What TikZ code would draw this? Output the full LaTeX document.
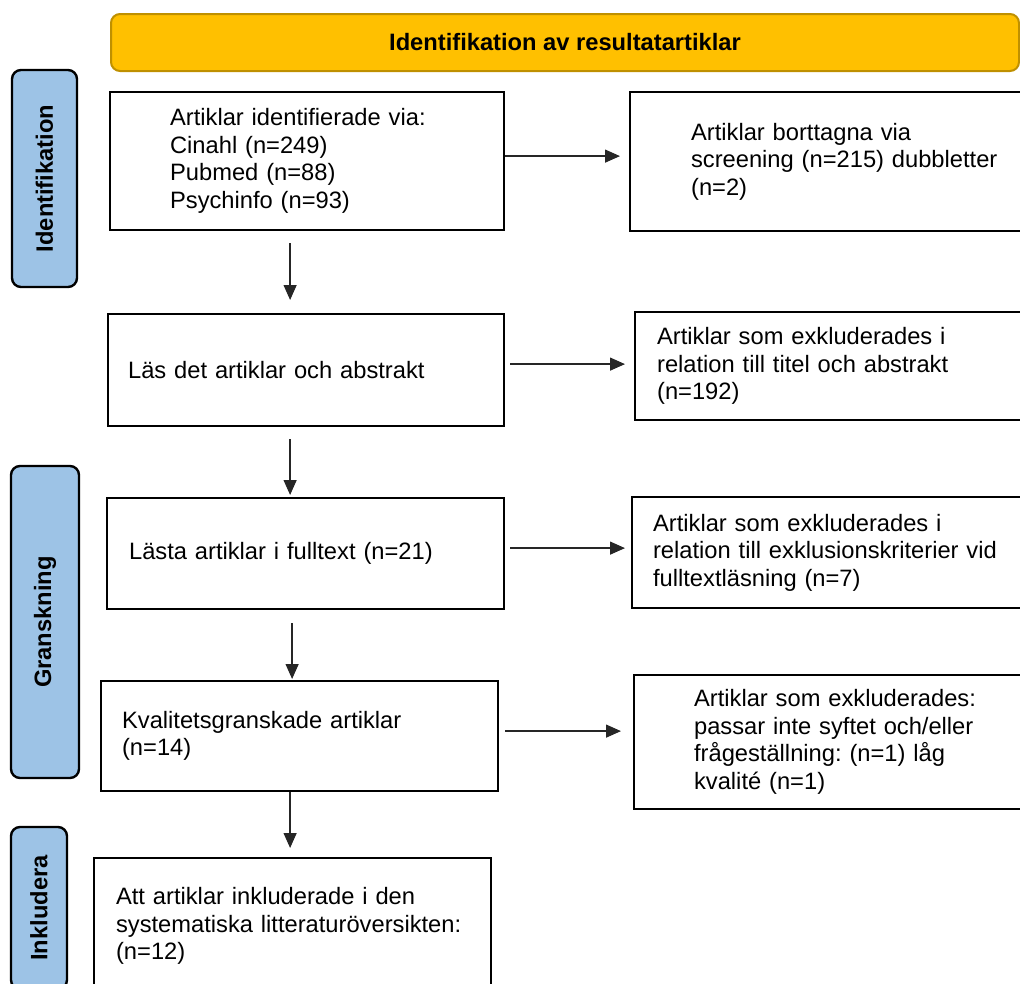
\documentclass[tikz,border=0pt]{standalone}
\usepackage{fontspec}
\setmainfont{Liberation Sans}
\frenchspacing
\usetikzlibrary{arrows.meta,positioning}
\definecolor{guld}{HTML}{FFC000}
\definecolor{guldkant}{HTML}{BF9000}
\definecolor{ljusbla}{HTML}{9DC3E6}

\begin{document}
\begin{tikzpicture}[x=1pt, y=-1pt,
  font=\fontsize{23.7}{27.5}\selectfont,
  ruta/.style={draw, line width=2.2pt, align=left, inner ysep=0pt,
               anchor=north west},
  fas/.style={draw, fill=ljusbla, line width=2.4pt, rounded corners=9pt,
              rotate=90, font=\fontsize{23.7}{27.5}\selectfont\bfseries},
  rubrik/.style={draw=guldkant, fill=guld, line width=2pt, rounded corners=9pt,
                 minimum width=908pt, minimum height=57pt,
                 font=\fontsize{23.7}{27.5}\selectfont\bfseries},
  pil/.style={-{Triangle[length=15pt, width=13pt]}, line width=1.3pt, black!85}]
\useasboundingbox (0,0) rectangle (1020,983);
\clip (0,0) rectangle (1020,983);
\node[rubrik] (titel) at (565,42.5) {Identifikation av resultatartiklar};
% faserna till vanster
\node[fas, minimum width=217pt, minimum height=65pt] (fas1) at (44.5,178.5) {Identifikation};
\node[fas, minimum width=312pt, minimum height=68pt] (fas2) at (45,622) {Granskning};
\node[fas, minimum width=162pt, minimum height=56pt] (fas3) at (39,908) {Inkludera};
% huvudflodet
\node[ruta, inner xsep=60pt, text width=274pt, minimum height=138pt] (s1) at (109,91)
  {Artiklar identifierade via:\\Cinahl (n=249)\\Pubmed (n=88)\\Psychinfo (n=93)};
\node[ruta, inner xsep=20pt, text width=356pt, minimum height=112pt] (s2) at (107,313)
  {Läs det artiklar och abstrakt};
\node[ruta, inner xsep=22pt, text width=353pt, minimum height=111pt] (s3) at (106,497)
  {Lästa artiklar i fulltext (n=21)};
\node[ruta, inner xsep=21pt, text width=355pt, minimum height=110pt] (s4) at (100,680)
  {Kvalitetsgranskade artiklar\\(n=14)};
\node[ruta, inner xsep=22pt, text width=353pt, minimum height=136pt] (s5) at (93,857)
  {Att artiklar inkluderade i den\\systematiska litteraturöversikten:\\(n=12)};
% uteslutna
\node[ruta, inner xsep=61pt, text width=330pt, minimum height=139pt] (u1) at (629,91)
  {Artiklar borttagna via\\screening (n=215) dubbletter\\(n=2)};
\node[ruta, inner xsep=22pt, text width=360pt, minimum height=108pt] (u2) at (634,311)
  {Artiklar som exkluderades i\\relation till titel och abstrakt\\(n=192)};
\node[ruta, inner xsep=21pt, text width=370pt, minimum height=111pt] (u3) at (631,496)
  {Artiklar som exkluderades i\\relation till exklusionskriterier vid\\fulltextläsning (n=7)};
\node[ruta, inner xsep=60pt, text width=320pt, minimum height=134pt] (u4) at (633,674)
  {Artiklar som exkluderades:\\passar inte syftet och/eller\\frågeställning: (n=1) låg\\kvalité (n=1)};
\draw[pil, shorten >=9pt] ([yshift=5pt]s1.east) -- ([yshift=5pt]s1.east -| u1.west);
\draw[pil, shorten <=5pt, shorten >=9pt] ([yshift=6pt]s2.east) -- ([yshift=6pt]s2.east -| u2.west);
\draw[pil, shorten <=5pt, shorten >=6pt] ([yshift=5.5pt]s3.east) -- ([yshift=5.5pt]s3.east -| u3.west);
\draw[pil, shorten <=6pt, shorten >=12pt] ([yshift=5pt]s4.east) -- ([yshift=5pt]s4.east -| u4.west);
\draw[pil, shorten <=12pt, shorten >=13pt] ([xshift=-17pt]s1.south) -- ([xshift=-17pt]s1.south |- s2.north);
\draw[pil, shorten <=12pt, shorten >=2pt] ([xshift=-16pt]s2.south) -- ([xshift=-16pt]s2.south |- s3.north);
\draw[pil, shorten <=13pt, shorten >=1pt] ([xshift=-13.5pt]s3.south) -- ([xshift=-13.5pt]s3.south |- s4.north);
\draw[pil, shorten >=9pt] ([xshift=-9.5pt]s4.south) -- ([xshift=-9.5pt]s4.south |- s5.north);
\end{tikzpicture}
\end{document}
